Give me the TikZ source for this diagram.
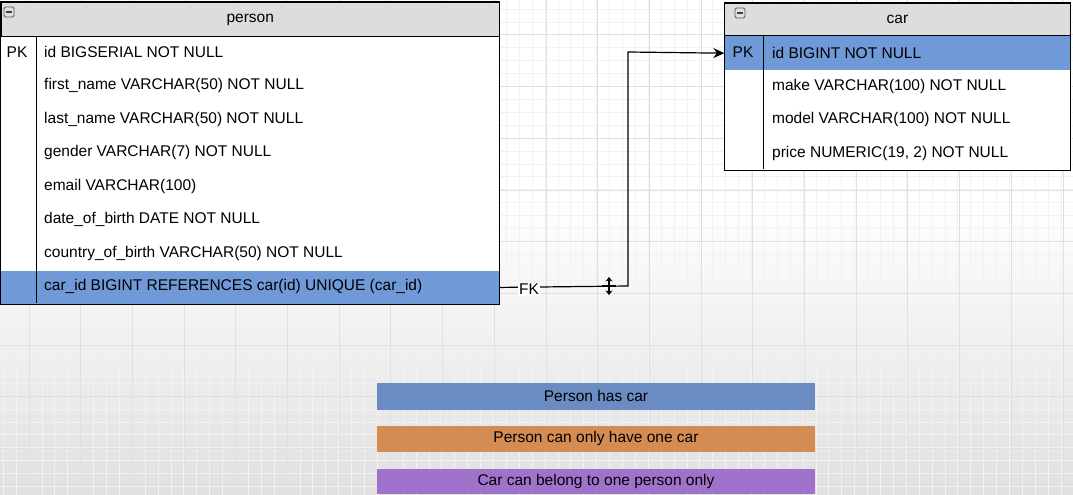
\documentclass[tikz,border=0pt]{standalone}
\usepackage{fontspec}
\setmainfont{Liberation Sans}
\usetikzlibrary{positioning,arrows.meta}

\definecolor{headgray}{HTML}{DDDDDD}
\definecolor{rowblue}{HTML}{7099D8}
\definecolor{noteblue}{HTML}{6A8CC2}
\definecolor{noteorange}{HTML}{D58C52}
\definecolor{notepurple}{HTML}{A172CB}
\definecolor{bggray}{HTML}{E0E0E0}

\tikzset{
  tablehead/.style={draw=black, line width=1pt, fill=headgray, anchor=north west, inner sep=0pt, minimum height=34pt, font=\fontsize{15.5}{18}\selectfont},
  tablebody/.style={fill=white, anchor=north, inner sep=0pt},
  rowhl/.style={fill=rowblue, inner sep=0pt, minimum height=33.5pt},
  field/.style={anchor=west, inner sep=0pt, font=\fontsize{15.5}{18}\selectfont},
  keycol/.style={inner sep=0pt, font=\fontsize{15.5}{18}\selectfont},
  collapse/.style={draw=black!65, line width=0.8pt, fill=black!12, rounded corners=1.5pt, minimum size=10pt, inner sep=0pt},
  note/.style={inner sep=0pt, minimum width=438pt, font=\fontsize{15.5}{18}\selectfont},
}

\begin{document}
\begin{tikzpicture}[x=1pt,y=-1pt]
\useasboundingbox (0,0) rectangle (1073,495);
% background
\fill[white] (0,0) rectangle (1073,200);
\shade[top color=white, bottom color=bggray] (0,200) rectangle (1073,495);
\foreach \gx in {3.2,16.1,...,1073} \draw[black!5, line width=0.8pt] (\gx,0) -- (\gx,495);
\foreach \gy in {9.1,22.0,...,495} \draw[black!5, line width=0.8pt] (0,\gy) -- (1073,\gy);
\foreach \gx in {29,80.7,...,1073} \draw[black!12, line width=1pt] (\gx,0) -- (\gx,495);
\foreach \gy in {35,86.7,...,495} \draw[black!12, line width=1pt] (0,\gy) -- (1073,\gy);

% person
\node[tablehead, minimum width=498.5pt] (person) at (0.5,2) {person};
\node[tablebody, minimum width=498.5pt, minimum height=267pt, below=0pt of person] (personbody) {};
\node[rowhl, minimum width=498.5pt, anchor=south west] (pcarid) at (personbody.south west) {};
\draw[line width=1pt] (person.north west) rectangle (personbody.south east);
\draw[line width=1pt] (36,36) -- (36,303);
\node[collapse] (pcollapse) at (9,12) {};
\draw[black!75, line width=1.2pt] (6,12) -- (12,12);

\node[keycol] (ppk) at (17,52) {PK};
\node[field] (pid) at (44,52) {id BIGSERIAL NOT NULL};
\node[field] (pfirst) at (44,85.5) {first\_name VARCHAR(50) NOT NULL};
\node[field] (plast) at (44,119) {last\_name VARCHAR(50) NOT NULL};
\node[field] (pgender) at (44,152.5) {gender VARCHAR(7) NOT NULL};
\node[field] (pemail) at (44,186) {email VARCHAR(100)};
\node[field] (pdob) at (44,219.5) {date\_of\_birth DATE NOT NULL};
\node[field] (pcob) at (44,253) {country\_of\_birth VARCHAR(50) NOT NULL};
\node[field] (pcar) at (44,286.5) {car\_id BIGINT REFERENCES car(id) UNIQUE (car\_id)};

% car
\node[tablehead, minimum width=346pt, minimum height=32pt] (car) at (724,3) {car};
\node[tablebody, minimum width=346pt, minimum height=134pt, below=0pt of car] (carbody) {};
\node[rowhl, minimum width=346pt, minimum height=34pt, anchor=north west] (cid) at (carbody.north west) {};
\draw[line width=1pt] (car.north west) rectangle (carbody.south east);
\draw[line width=1pt] (763,35) -- (763,169);
\node[collapse] (ccollapse) at (740,13) {};
\draw[black!75, line width=1.2pt] (737,13) -- (743,13);

\node[keycol] (cpk) at (743,52.5) {PK};
\node[field] (cidtext) at (772,52.5) {id BIGINT NOT NULL};
\node[field] (cmake) at (772,86) {make VARCHAR(100) NOT NULL};
\node[field] (cmodel) at (772,119.5) {model VARCHAR(100) NOT NULL};
\node[field] (cprice) at (772,153) {price NUMERIC(19, 2) NOT NULL};

% relation
\coordinate (bendlow) at (628,286);
\coordinate (bendhigh) at (628,52);
\draw[line width=1.2pt, -{Stealth[length=11pt,width=10pt]}] (pcarid.east) -- (bendlow) -- (bendhigh) -- (cid.west);
\node[fill=white, inner sep=1pt, font=\fontsize{15.5}{18}\selectfont] (fk) at (529,289.5) {FK};

% cursor
\coordinate (curtop) at (609,277);
\coordinate (curbot) at (609,295);
\coordinate (curleft) at (602,286);
\coordinate (curright) at (616,286);
\draw[line width=1.8pt, {Stealth[length=4.5pt,width=7pt]}-{Stealth[length=4.5pt,width=7pt]}] (curtop) -- (curbot);
\draw[line width=1.8pt] (curleft) -- (curright);

% notes
\node[note, fill=noteblue, minimum height=27pt] (hascar) at (596,396) {Person has car};
\node[note, fill=noteorange, minimum height=26pt] (onecar) at (596,438.5) {Person can only have one car};
\node[note, fill=notepurple, minimum height=25pt] (oneperson) at (596,481) {Car can belong to one person only};
\end{tikzpicture}
\end{document}
